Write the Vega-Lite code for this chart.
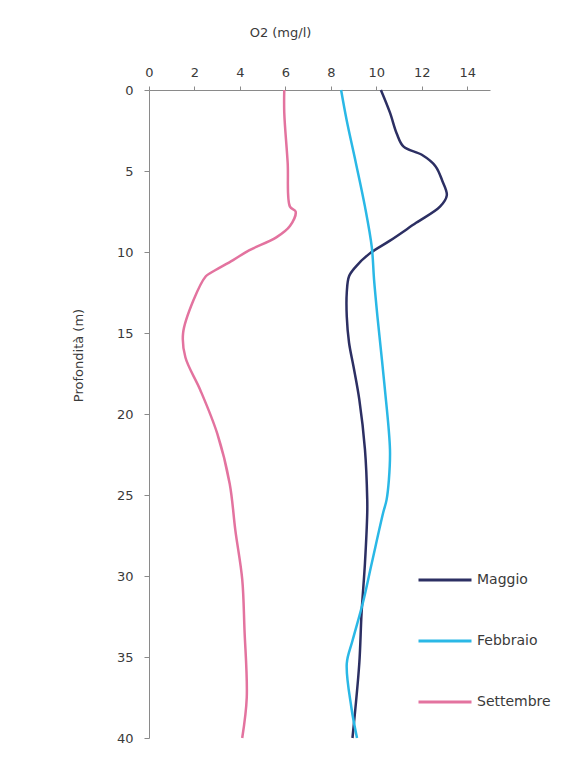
{
  "$schema": "https://vega.github.io/schema/vega-lite/v6.json",
  "autosize": {"type": "none"},
  "padding": {"left": 149, "top": 90, "right": 98, "bottom": 36},
  "width": 341,
  "height": 648,
  "background": "white",
  "config": {
    "view": {"stroke": null},
    "font": "DejaVu Sans",
    "axis": {
      "domainColor": "#8a8a8a",
      "tickColor": "#8a8a8a",
      "labelColor": "#3a3a3a",
      "titleColor": "#3a3a3a",
      "labelFont": "DejaVu Sans",
      "titleFont": "DejaVu Sans",
      "labelFontSize": 13,
      "titleFontSize": 13,
      "titleFontWeight": "normal",
      "grid": false
    },
    "legend": {
      "labelFont": "DejaVu Sans",
      "labelFontSize": 14,
      "labelColor": "#3a3a3a"
    }
  },
  "data": {
    "values": [
      {"mese": "Maggio", "profondita": 0, "o2": 10.2},
      {"mese": "Maggio", "profondita": 1.4, "o2": 10.6},
      {"mese": "Maggio", "profondita": 2.7, "o2": 10.9},
      {"mese": "Maggio", "profondita": 3.5, "o2": 11.2},
      {"mese": "Maggio", "profondita": 4.0, "o2": 12.0},
      {"mese": "Maggio", "profondita": 4.7, "o2": 12.6},
      {"mese": "Maggio", "profondita": 5.6, "o2": 12.9},
      {"mese": "Maggio", "profondita": 6.5, "o2": 13.1},
      {"mese": "Maggio", "profondita": 7.2, "o2": 12.8},
      {"mese": "Maggio", "profondita": 8.2, "o2": 11.75},
      {"mese": "Maggio", "profondita": 9.3, "o2": 10.6},
      {"mese": "Maggio", "profondita": 10.1, "o2": 9.7},
      {"mese": "Maggio", "profondita": 10.9, "o2": 9.1},
      {"mese": "Maggio", "profondita": 11.5, "o2": 8.8},
      {"mese": "Maggio", "profondita": 12.5, "o2": 8.7},
      {"mese": "Maggio", "profondita": 14.0, "o2": 8.7},
      {"mese": "Maggio", "profondita": 15.6, "o2": 8.8},
      {"mese": "Maggio", "profondita": 17.1, "o2": 9.0},
      {"mese": "Maggio", "profondita": 19.1, "o2": 9.25},
      {"mese": "Maggio", "profondita": 22.2, "o2": 9.5},
      {"mese": "Maggio", "profondita": 25.3, "o2": 9.6},
      {"mese": "Maggio", "profondita": 26.1, "o2": 9.6},
      {"mese": "Maggio", "profondita": 29.2, "o2": 9.5},
      {"mese": "Maggio", "profondita": 32.3, "o2": 9.35},
      {"mese": "Maggio", "profondita": 35.4, "o2": 9.25},
      {"mese": "Maggio", "profondita": 40, "o2": 8.95},

      {"mese": "Febbraio", "profondita": 0, "o2": 8.45},
      {"mese": "Febbraio", "profondita": 1.9, "o2": 8.7},
      {"mese": "Febbraio", "profondita": 4.5, "o2": 9.1},
      {"mese": "Febbraio", "profondita": 7.2, "o2": 9.5},
      {"mese": "Febbraio", "profondita": 9.7, "o2": 9.8},
      {"mese": "Febbraio", "profondita": 11.7, "o2": 9.9},
      {"mese": "Febbraio", "profondita": 14.0, "o2": 10.05},
      {"mese": "Febbraio", "profondita": 18.1, "o2": 10.35},
      {"mese": "Febbraio", "profondita": 22.2, "o2": 10.6},
      {"mese": "Febbraio", "profondita": 24.1, "o2": 10.55},
      {"mese": "Febbraio", "profondita": 25.3, "o2": 10.45},
      {"mese": "Febbraio", "profondita": 26.1, "o2": 10.3},
      {"mese": "Febbraio", "profondita": 29.2, "o2": 9.8},
      {"mese": "Febbraio", "profondita": 31.7, "o2": 9.4},
      {"mese": "Febbraio", "profondita": 34.0, "o2": 8.95},
      {"mese": "Febbraio", "profondita": 35.4, "o2": 8.7},
      {"mese": "Febbraio", "profondita": 38.1, "o2": 8.9},
      {"mese": "Febbraio", "profondita": 40, "o2": 9.15},

      {"mese": "Settembre", "profondita": 0, "o2": 5.95},
      {"mese": "Settembre", "profondita": 1.4, "o2": 5.95},
      {"mese": "Settembre", "profondita": 4.5, "o2": 6.1},
      {"mese": "Settembre", "profondita": 7.2, "o2": 6.2},
      {"mese": "Settembre", "profondita": 7.5, "o2": 6.45},
      {"mese": "Settembre", "profondita": 8.4, "o2": 6.2},
      {"mese": "Settembre", "profondita": 9.1, "o2": 5.6},
      {"mese": "Settembre", "profondita": 9.9, "o2": 4.4},
      {"mese": "Settembre", "profondita": 10.5, "o2": 3.7},
      {"mese": "Settembre", "profondita": 11.3, "o2": 2.7},
      {"mese": "Settembre", "profondita": 11.5, "o2": 2.5},
      {"mese": "Settembre", "profondita": 13.0, "o2": 1.95},
      {"mese": "Settembre", "profondita": 15.0, "o2": 1.5},
      {"mese": "Settembre", "profondita": 16.5, "o2": 1.6},
      {"mese": "Settembre", "profondita": 18.5, "o2": 2.25},
      {"mese": "Settembre", "profondita": 21.2, "o2": 3.0},
      {"mese": "Settembre", "profondita": 24.3, "o2": 3.55},
      {"mese": "Settembre", "profondita": 27.2, "o2": 3.8},
      {"mese": "Settembre", "profondita": 30.2, "o2": 4.1},
      {"mese": "Settembre", "profondita": 33.3, "o2": 4.2},
      {"mese": "Settembre", "profondita": 37.5, "o2": 4.3},
      {"mese": "Settembre", "profondita": 40, "o2": 4.1}
    ]
  },
  "mark": {"type": "line", "strokeWidth": 2.5, "interpolate": "catmull-rom", "clip": false},
  "encoding": {
    "x": {
      "field": "o2",
      "type": "quantitative",
      "scale": {"domain": [0, 15], "nice": false, "zero": true},
      "axis": {
        "orient": "top",
        "title": "O2 (mg/l)",
        "values": [0, 2, 4, 6, 8, 10, 12, 14],
        "tickSize": 4,
        "labelPadding": 7,
        "labelFlush": false,
        "titleX": 131,
        "titleY": -58,
        "titleAnchor": "middle",
        "titleAlign": "center",
        "titleBaseline": "middle"
      }
    },
    "y": {
      "field": "profondita",
      "type": "quantitative",
      "scale": {"domain": [0, 40], "reverse": true, "nice": false},
      "axis": {
        "title": "Profondità (m)",
        "values": [0, 5, 10, 15, 20, 25, 30, 35, 40],
        "tickSize": 5,
        "labelPadding": 11,
        "labelFlush": false,
        "titleAngle": -90,
        "titleX": -71,
        "titleY": 265,
        "titleAlign": "center",
        "titleBaseline": "middle"
      }
    },
    "order": {"field": "profondita", "type": "quantitative"},
    "color": {
      "field": "mese",
      "type": "nominal",
      "scale": {
        "domain": ["Maggio", "Febbraio", "Settembre"],
        "range": ["#2c2f63", "#2ab8e6", "#e3739f"]
      },
      "legend": {
        "title": null,
        "orient": "none",
        "legendX": 268,
        "legendY": 462,
        "symbolType": "stroke",
        "symbolSize": 2809,
        "symbolStrokeWidth": 3,
        "rowPadding": 26,
        "labelOffset": 4
      }
    }
  }
}
